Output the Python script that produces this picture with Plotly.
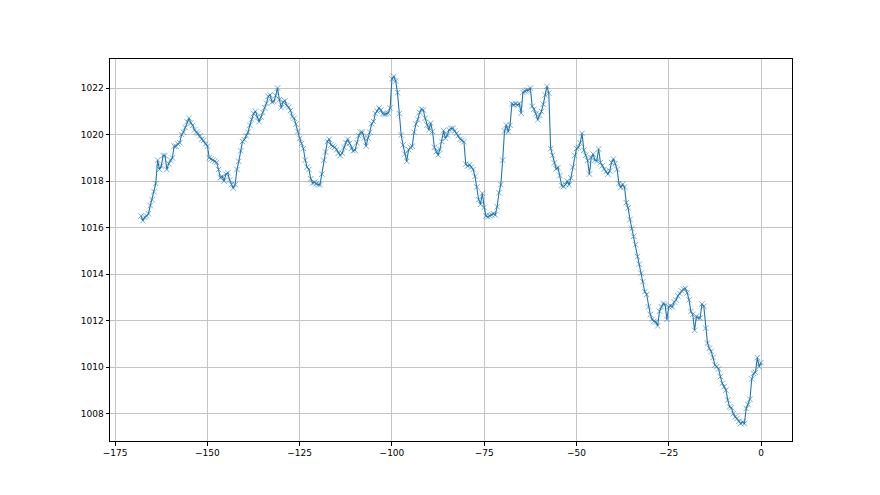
import numpy as np
import plotly.graph_objects as go

# hours relative to now (half-hour readings)
hours = np.arange(-168, 0.5, 0.5)

# barometric pressure, hPa (one row = 10 hours)
pressure = [
    1016.5, 1016.3, 1016.45, 1016.5, 1016.6, 1016.95, 1017.2, 1017.55, 1017.9, 1018.9,
    1018.5, 1018.65, 1019.1, 1019.1, 1018.5, 1018.75, 1018.9, 1019.0, 1019.5, 1019.5,
    1019.6, 1019.65, 1020.0, 1020.1, 1020.3, 1020.55, 1020.7, 1020.5, 1020.4, 1020.2,
    1020.1, 1020.05, 1019.95, 1019.8, 1019.75, 1019.6, 1019.5, 1019.0, 1018.95, 1018.9,
    1018.85, 1018.8, 1018.5, 1018.15, 1018.2, 1018.0, 1018.3, 1018.35, 1018.05, 1017.85,
    1017.7, 1017.85, 1018.5, 1018.85, 1019.3, 1019.7, 1019.78, 1019.95, 1020.1, 1020.4,
    1020.65, 1020.9, 1021.0, 1020.75, 1020.55, 1020.75, 1020.95, 1021.15, 1021.35, 1021.64,
    1021.7, 1021.4, 1021.42, 1021.67, 1022.0, 1021.5, 1021.15, 1021.4, 1021.45, 1021.24,
    1021.18, 1021.03, 1020.78, 1020.7, 1020.45, 1020.13, 1019.84, 1019.62, 1019.4, 1018.9,
    1018.6, 1018.5, 1018.1, 1017.92, 1017.95, 1017.89, 1017.85, 1017.85, 1018.3, 1018.9,
    1019.25, 1019.7, 1019.8, 1019.55, 1019.5, 1019.45, 1019.35, 1019.2, 1019.1, 1019.2,
    1019.45, 1019.65, 1019.8, 1019.62, 1019.4, 1019.3, 1019.33, 1019.65, 1019.95, 1020.1,
    1020.1, 1019.85, 1019.5, 1019.85, 1020.1, 1020.46, 1020.56, 1020.9, 1021.0, 1021.14,
    1021.05, 1020.89, 1020.88, 1020.89, 1020.92, 1021.14, 1022.39, 1022.5, 1022.3, 1021.8,
    1020.9, 1019.98, 1019.55, 1019.16, 1018.85, 1019.35, 1019.45, 1019.5, 1020.1, 1020.45,
    1020.65, 1020.95, 1021.09, 1021.05, 1020.7, 1020.41, 1020.2, 1020.49, 1020.13, 1019.45,
    1019.26, 1019.12, 1019.36, 1019.7, 1020.17, 1019.84, 1019.98, 1020.2, 1020.26, 1020.27,
    1020.15, 1020.05, 1019.95, 1019.8, 1019.75, 1019.69, 1018.73, 1018.65, 1018.7, 1018.6,
    1018.5, 1018.2, 1017.75, 1017.2, 1017.0, 1017.48, 1016.87, 1016.5, 1016.47, 1016.51,
    1016.55, 1016.6, 1016.55, 1016.9, 1017.5, 1017.85, 1018.9, 1020.16, 1020.41, 1020.12,
    1020.4, 1021.32, 1021.28, 1021.32, 1021.28, 1021.32, 1020.92, 1021.81, 1021.86, 1021.9,
    1021.9, 1022.0, 1021.21, 1021.09, 1020.89, 1020.63, 1020.84, 1020.99, 1021.3, 1021.7,
    1022.07, 1021.78, 1019.4, 1019.11, 1018.78, 1018.53, 1018.58, 1018.24, 1017.81, 1017.77,
    1017.85, 1018.0, 1017.84, 1018.14, 1018.6, 1019.1, 1019.4, 1019.44, 1019.64, 1020.05,
    1019.33, 1019.11, 1018.89, 1018.3, 1019.0, 1019.16, 1018.9, 1018.87, 1019.38, 1018.8,
    1018.66, 1018.51, 1018.41, 1018.3, 1018.44, 1018.8, 1018.95, 1018.75, 1018.5, 1017.9,
    1017.72, 1017.86, 1017.75, 1017.07, 1016.85, 1016.35, 1015.96, 1015.63, 1015.27, 1014.76,
    1014.43, 1014.04, 1013.68, 1013.25, 1013.13, 1012.6, 1012.27, 1012.06, 1011.98, 1011.95,
    1011.78, 1012.41, 1012.6, 1012.74, 1012.7, 1012.06, 1012.6, 1012.64, 1012.6, 1012.81,
    1012.89, 1013.07, 1013.17, 1013.28, 1013.36, 1013.39, 1013.2, 1012.9, 1012.4, 1012.27,
    1011.59, 1012.19, 1012.12, 1012.12, 1012.72, 1012.62, 1011.68, 1011.04, 1010.82, 1010.68,
    1010.42, 1010.1, 1010.03, 1009.93, 1009.6, 1009.31, 1009.17, 1009.02, 1008.59, 1008.3,
    1008.26, 1008.01, 1007.87, 1007.8, 1007.68, 1007.58, 1007.65, 1007.58, 1008.23, 1008.4,
    1008.63, 1009.5, 1009.74, 1009.78, 1010.42, 1010.03, 1010.2,
]

x_ticks = [-175, -150, -125, -100, -75, -50, -25, 0]
y_ticks = [1008, 1010, 1012, 1014, 1016, 1018, 1020, 1022]

blue = "#1f77b4"

fig = go.Figure()
fig.add_trace(
    go.Scatter(
        x=hours,
        y=pressure,
        mode="lines+markers",
        line=dict(color=blue, width=1.1),
        marker=dict(symbol="x-thin", size=5.5,
                    line=dict(color="rgba(31,119,180,0.75)", width=0.8)),
        showlegend=False,
    )
)

# matplotlib-like 5% padding
xpad = 0.05 * (hours.max() - hours.min())
ymin, ymax = min(pressure), max(pressure)
ypad = 0.05 * (ymax - ymin)

axis_style = dict(
    showgrid=True,
    gridcolor="#c4c4c4",
    gridwidth=0.8,
    zeroline=False,
    showline=True,
    linecolor="black",
    linewidth=1,
    mirror=True,
    ticks="outside",
    ticklen=3.5,
    tickwidth=0.8,
    tickcolor="black",
    tickfont=dict(family="DejaVu Sans", size=9, color="black"),
)

fig.update_xaxes(range=[hours.min() - xpad, hours.max() + xpad],
                 tickvals=x_ticks, **axis_style)
fig.update_yaxes(range=[ymin - ypad, ymax + ypad],
                 tickvals=y_ticks, **axis_style)

# the page body has an 8px margin, so the margins are shifted to match
fig.update_layout(
    width=880,
    height=495,
    margin=dict(l=102, r=96, t=51, b=62),
    paper_bgcolor="white",
    plot_bgcolor="white",
)

fig.write_html("out.html")
